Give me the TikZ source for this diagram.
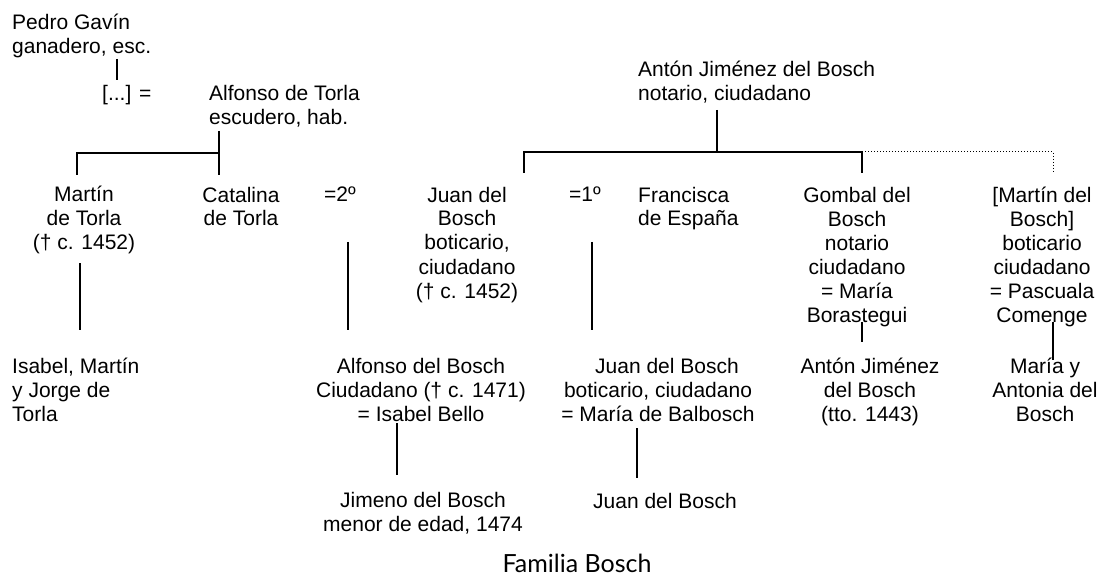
\documentclass[tikz,border=0pt]{standalone}
\usepackage{fontspec}
\setmainfont{Liberation Sans}
\newfontfamily\capfont{Lato}
\begin{document}
\begin{tikzpicture}[x=1pt,y=-1pt,
    pers/.style={align=center, anchor=base, inner sep=0pt, font=\fontsize{21}{24}\selectfont},
    persl/.style={pers, align=left, anchor=base west},
    rel/.style={line width=1.6pt},
    lost/.style={line width=1pt, dotted}]
    \useasboundingbox (0,0) rectangle (1102,577);

    % Torla (nodes sit on the baseline of their last line)
    \node[persl] (pedro) at (12,54) {Pedro Gavín\\ganadero, esc.};
    \node[persl] (hija) at (102,101) {[...] =};
    \node[persl] (alfonso) at (209,125) {Alfonso de Torla\\escudero, hab.};
    \node[pers] (martin) at (84,250) {Martín\\de Torla\\(† c. 1452)};
    \node[pers] (catalina) at (241,226) {Catalina\\de Torla};
    \node[pers] (casa2) at (340,202) {=2º};
    \node[persl] (nietos) at (12,421) {Isabel, Martín\\y Jorge de\\Torla};

    % Bosch
    \node[persl] (anton) at (638,101) {Antón Jiménez del Bosch\\notario, ciudadano};
    \node[pers] (juan) at (467,298) {Juan del\\Bosch\\boticario,\\ciudadano\\(† c. 1452)};
    \node[pers] (casa1) at (585,202) {=1º};
    \node[persl] (francisca) at (638,226) {Francisca\\de España};
    \node[pers] (gombal) at (857,322) {Gombal del\\Bosch\\notario\\ciudadano\\= María\\Borastegui};
    \node[pers] (martinb) at (1042,322) {[Martín del\\Bosch]\\boticario\\ciudadano\\= Pascuala\\Comenge};
    \node[pers] (alfonsob) at (421,421) {Alfonso del Bosch\\Ciudadano († c. 1471)\\= Isabel Bello};
    \node[pers] (juanb) at (658,421) {\hspace*{18pt}Juan del Bosch\\boticario, ciudadano\\= María de Balbosch};
    \node[pers] (antonb) at (870,421) {Antón Jiménez\\del Bosch\\(tto. 1443)};
    \node[pers] (mariab) at (1045,421) {María y\\Antonia del\\Bosch};
    \node[pers] (jimeno) at (423,531) {Jimeno del Bosch\\menor de edad, 1474};
    \node[pers] (juanc) at (665,508) {Juan del Bosch};

    \node[anchor=base, inner sep=0pt, font=\capfont\fontsize{25}{28}\selectfont] (titulo) at (577,572) {Familia Bosch};

    % line ends
    \coordinate (p1) at (117,59);  \coordinate (p2) at (117,80);
    \coordinate (t1) at (219,131); \coordinate (t2) at (219,175);
    \coordinate (t3) at (77,153);  \coordinate (t4) at (77,175);
    \coordinate (m1) at (80,263);  \coordinate (m2) at (80,330);
    \coordinate (s1) at (348,242); \coordinate (s2) at (348,330);
    \coordinate (f1) at (592,242); \coordinate (f2) at (592,330);
    \coordinate (a1) at (397,423); \coordinate (a2) at (397,475);
    \coordinate (j1) at (637,428); \coordinate (j2) at (637,478);
    \coordinate (b1) at (717,110); \coordinate (b2) at (717,152);
    \coordinate (b3) at (524,152); \coordinate (b4) at (524,173);
    \coordinate (b5) at (862,152); \coordinate (b6) at (862,173);
    \coordinate (b7) at (1053,152); \coordinate (b8) at (1053,172);
    \coordinate (g1) at (862,322); \coordinate (g2) at (862,342);
    \coordinate (k1) at (1053,322); \coordinate (k2) at (1053,360);

    \draw[rel] (p1) -- (p2);
    \draw[rel] (t1) -- (t2);
    \draw[rel] (t4) -- (t3) -- (t1 |- t3);
    \draw[rel] (m1) -- (m2);
    \draw[rel] (s1) -- (s2);
    \draw[rel] (f1) -- (f2);
    \draw[rel] (a1) -- (a2);
    \draw[rel] (j1) -- (j2);
    \draw[rel] (b1) -- (b2);
    \draw[rel] (b4) -- (b3) -- (b5) -- (b6);
    \draw[lost] (b5) -- (b7) -- (b8);
    \draw[rel] (g1) -- (g2);
    \draw[rel] (k1) -- (k2);
\end{tikzpicture}
\end{document}
